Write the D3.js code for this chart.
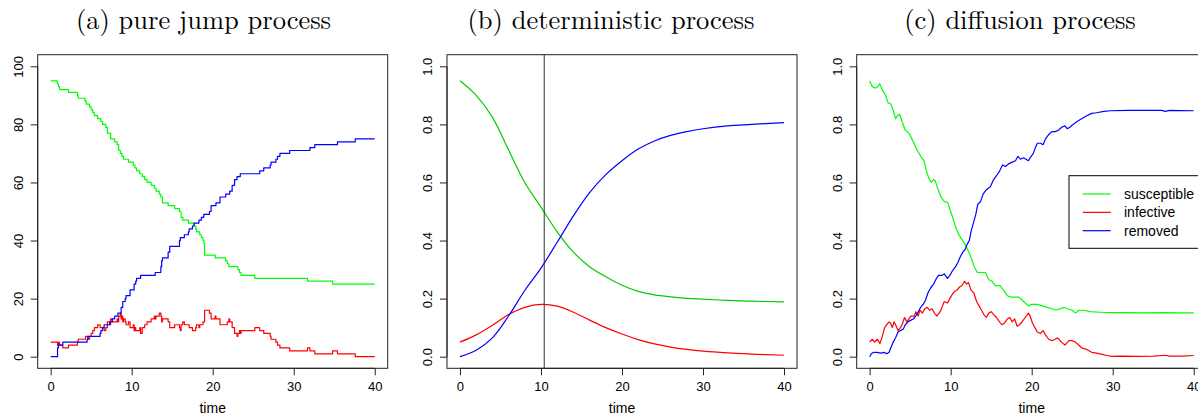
<!DOCTYPE html>
<html><head><meta charset="utf-8">
<script src="https://cdn.jsdelivr.net/npm/d3@7"></script>
<style>body{margin:0;background:#fff}svg{display:block}</style>
</head><body>
<svg id="c" width="1198" height="415"></svg>
<script>
// ---------- data ----------
const titles = ["(a) pure jump process", "(b) deterministic process", "(c) diffusion process"];
const xTicks = [0, 10, 20, 30, 40];
const yTicksCount = [0, 20, 40, 60, 80, 100];
const yTicksProp = [0, 0.2, 0.4, 0.6, 0.8, 1.0];
const seriesNames = ["susceptible", "infective", "removed"];
const xLabel = "time";

// (a) pure jump process: [time, count] step events
const jumpS = [[0,95],[0.82,94],[0.95,93],[1.1,92],[2.2,91],[3.3,90],[3.4,89],[4.25,88],[4.4,87],[4.8,86],[5.0,85],[5.2,84],[5.4,83],[5.8,82],[6.2,81],[6.4,80],[6.8,79],[7.0,77],[7.4,75],[7.9,74],[8.2,73],[8.4,71],[8.6,70],[8.8,69],[9.0,68],[9.6,67],[10.2,66],[10.4,65],[10.6,64],[11.0,63],[11.3,62],[11.6,61],[11.9,60],[12.4,59],[12.8,58],[13.0,57],[13.4,56],[13.6,55],[13.8,53],[14.5,52],[15.3,51],[15.9,50],[16.1,48],[16.3,47],[17.0,46],[17.7,45],[17.9,44],[18.0,43],[18.4,42],[18.6,41],[18.8,40],[18.9,39],[19.0,35],[20.3,34],[21.6,33],[21.8,32],[22.0,31],[23.1,30],[23.3,29],[23.5,28],[25.2,27],[31.7,26],[34.8,25],[40,25]];
const jumpI = [[0,5],[0.85,4],[0.95,5],[1.1,4],[1.5,3],[2.2,4],[3.3,5],[3.4,6],[4.3,7],[4.6,6],[4.8,7],[5.0,8],[5.2,9],[5.4,10],[5.8,11],[6.1,10],[6.6,9],[6.8,10],[7.0,12],[7.3,11],[7.4,13],[7.6,12],[8.2,13],[8.3,12],[8.4,14],[8.6,15],[8.7,13],[8.8,14],[8.9,12],[9.0,13],[9.2,12],[9.3,11],[9.6,12],[9.8,10],[10.2,11],[10.3,9],[10.4,10],[10.5,9],[11.0,10],[11.1,8],[11.3,10],[11.6,11],[11.9,12],[12.4,13],[12.8,14],[12.9,13],[13.0,14],[13.4,15],[13.6,14],[13.7,12],[13.8,13],[14.5,12],[14.7,10],[15.3,11],[15.9,10],[16.0,9],[16.1,11],[16.3,12],[16.5,11],[17.1,10],[17.5,9],[17.9,10],[18.0,11],[18.3,10],[18.4,11],[18.8,12],[19.0,16],[19.6,15],[19.8,13],[20.3,14],[20.4,13],[20.9,11],[21.8,12],[22.0,13],[22.1,12],[22.4,10],[22.7,8],[23.0,7],[23.1,8],[23.3,9],[23.4,8],[23.5,9],[25.2,10],[25.8,9],[26.3,8],[27.1,7],[27.2,6],[27.8,5],[28.0,4],[28.3,3],[29.5,2],[31.7,3],[32.0,2],[32.6,1],[34.8,2],[35.4,1],[37.6,0],[40,0]];
const jumpR = [[0,0],[0.85,3],[0.95,4],[1.5,5],[4.5,6],[4.6,7],[6.1,8],[6.2,9],[6.4,10],[6.6,11],[7.3,12],[7.6,13],[7.9,14],[8.3,15],[8.7,17],[8.9,19],[9.2,20],[9.3,21],[9.8,23],[10.3,25],[10.5,26],[10.6,27],[11.1,28],[12.9,29],[13.6,31],[13.7,33],[13.8,34],[14.5,36],[14.7,38],[15.9,40],[16.0,41],[16.5,42],[17.0,43],[17.1,44],[17.5,45],[17.7,46],[18.3,47],[18.6,48],[18.9,49],[19.6,50],[19.8,52],[20.4,53],[20.9,55],[21.6,56],[22.1,57],[22.4,59],[22.7,61],[23.0,62],[23.4,63],[25.8,64],[26.3,65],[27.1,66],[27.2,67],[27.8,68],[28.0,69],[28.3,70],[29.5,71],[32.0,72],[32.6,73],[35.4,74],[37.6,75],[40,75]];

// (b) deterministic process: [time, proportion]
const detS = [[0,0.95],[2,0.90],[4,0.825],[6,0.712],[8,0.60],[10,0.515],[12,0.43],[14,0.36],[16,0.31],[18,0.275],[20,0.246],[22,0.225],[24,0.213],[26,0.206],[28,0.201],[30,0.198],[33,0.194],[36,0.191],[40,0.189]];
const detI = [[0,0.05],[2,0.075],[4,0.108],[6,0.145],[8,0.17],[10,0.18],[12,0.174],[14,0.153],[16,0.126],[18,0.10],[20,0.078],[22,0.059],[24,0.044],[26,0.033],[28,0.025],[30,0.019],[33,0.013],[36,0.009],[40,0.005]];
const detR = [[0,0],[2,0.022],[4,0.065],[6,0.14],[8,0.228],[10,0.305],[12,0.394],[14,0.485],[16,0.565],[18,0.627],[20,0.675],[22,0.715],[24,0.743],[26,0.762],[28,0.775],[30,0.785],[33,0.795],[36,0.80],[40,0.806]];
const detPeakTime = [10.4];

// (c) diffusion process: [time, proportion]
const diffS = [[0,0.95],[0.33,0.93],[0.74,0.925],[1.0,0.93],[1.23,0.94],[1.56,0.92],[1.97,0.90],[2.26,0.875],[2.6,0.87],[2.9,0.85],[3.2,0.82],[3.45,0.83],[3.7,0.835],[4.0,0.81],[4.4,0.78],[4.85,0.77],[5.3,0.745],[5.7,0.72],[6.3,0.69],[6.7,0.675],[7.0,0.64],[7.3,0.615],[7.6,0.60],[7.9,0.61],[8.1,0.605],[8.4,0.58],[8.8,0.55],[9.2,0.535],[9.65,0.53],[10.0,0.50],[10.3,0.475],[10.7,0.44],[11.1,0.415],[11.5,0.40],[11.8,0.385],[12.0,0.375],[12.4,0.35],[12.9,0.31],[13.3,0.29],[13.9,0.29],[14.3,0.29],[14.7,0.265],[15.1,0.26],[15.5,0.245],[16.1,0.245],[16.5,0.23],[17.0,0.21],[17.4,0.205],[18.0,0.205],[18.4,0.205],[18.8,0.195],[19.2,0.185],[19.6,0.175],[20.0,0.18],[20.7,0.18],[21.3,0.175],[21.9,0.17],[22.5,0.165],[23.0,0.16],[23.5,0.165],[24.0,0.17],[24.4,0.165],[25.0,0.16],[25.4,0.15],[25.8,0.16],[26.4,0.16],[27.2,0.155],[28.5,0.153],[30,0.152],[32,0.152],[34,0.151],[36,0.152],[38,0.151],[40,0.151]];
const diffI = [[0,0.05],[0.33,0.06],[0.6,0.05],[0.94,0.06],[1.27,0.045],[1.56,0.07],[1.85,0.10],[2.1,0.11],[2.4,0.12],[2.6,0.115],[2.8,0.10],[3.0,0.12],[3.2,0.11],[3.5,0.09],[3.8,0.10],[4.0,0.11],[4.3,0.135],[4.6,0.12],[4.85,0.13],[5.1,0.14],[5.5,0.14],[5.7,0.155],[6.0,0.14],[6.2,0.16],[6.5,0.15],[6.8,0.165],[7.1,0.17],[7.4,0.16],[7.7,0.165],[8.0,0.15],[8.3,0.14],[8.7,0.155],[9.0,0.175],[9.2,0.19],[9.6,0.185],[9.9,0.20],[10.2,0.215],[10.5,0.225],[10.8,0.23],[11.1,0.24],[11.4,0.245],[11.7,0.26],[11.95,0.25],[12.2,0.255],[12.5,0.23],[12.85,0.22],[13.2,0.19],[13.5,0.175],[13.8,0.16],[14.1,0.145],[14.4,0.135],[14.7,0.15],[15.0,0.155],[15.3,0.145],[15.65,0.135],[15.9,0.125],[16.3,0.11],[16.6,0.115],[17.0,0.13],[17.3,0.135],[17.6,0.12],[17.9,0.13],[18.2,0.105],[18.5,0.11],[18.8,0.12],[19.2,0.135],[19.6,0.15],[19.8,0.14],[20.1,0.115],[20.5,0.095],[20.7,0.085],[21.1,0.08],[21.4,0.09],[21.7,0.075],[22.1,0.06],[22.5,0.055],[22.9,0.06],[23.2,0.065],[23.5,0.055],[23.9,0.045],[24.1,0.04],[24.6,0.055],[25.0,0.055],[25.4,0.05],[25.8,0.04],[26.2,0.03],[26.8,0.025],[27.4,0.015],[28.0,0.012],[28.7,0.008],[29.3,0.004],[29.9,0.001],[31,0.002],[33,0.001],[35,0.002],[36.5,0.005],[37,0.002],[38.5,0.002],[40,0.004]];
const diffR = [[0,0],[0.2,0.01],[0.5,0.015],[0.9,0.015],[1.35,0.012],[1.8,0.015],[2.1,0.01],[2.4,0.015],[2.6,0.03],[2.9,0.05],[3.2,0.065],[3.5,0.085],[3.8,0.09],[4.15,0.095],[4.4,0.11],[4.7,0.12],[5.05,0.125],[5.4,0.13],[5.7,0.14],[6.0,0.155],[6.3,0.17],[6.6,0.18],[6.9,0.195],[7.2,0.22],[7.6,0.24],[7.9,0.25],[8.25,0.27],[8.5,0.28],[8.95,0.28],[9.2,0.285],[9.6,0.27],[9.9,0.28],[10.2,0.295],[10.6,0.31],[10.9,0.325],[11.2,0.345],[11.5,0.36],[11.8,0.37],[12.0,0.385],[12.3,0.40],[12.5,0.43],[12.8,0.46],[13.1,0.49],[13.35,0.525],[13.7,0.535],[14.0,0.56],[14.4,0.575],[14.9,0.585],[15.3,0.61],[15.7,0.625],[16.05,0.64],[16.4,0.66],[16.75,0.655],[17.2,0.665],[17.6,0.67],[18.0,0.675],[18.3,0.69],[18.6,0.68],[19.0,0.685],[19.3,0.68],[19.6,0.675],[19.8,0.685],[20.2,0.70],[20.45,0.72],[20.7,0.735],[21.1,0.735],[21.4,0.73],[21.7,0.75],[22.1,0.765],[22.5,0.775],[22.9,0.775],[23.3,0.78],[23.7,0.79],[24.1,0.795],[24.4,0.785],[24.7,0.79],[25.1,0.80],[25.6,0.81],[26.2,0.82],[26.8,0.83],[27.4,0.838],[28.0,0.84],[28.9,0.845],[29.7,0.847],[32,0.848],[34,0.848],[36,0.848],[36.5,0.845],[37,0.848],[40,0.847]];

// ---------- drawing ----------
const svg = d3.select("#c");
const panelLeft = [37.7, 447, 856.7];
const titleX = [203.5, 611, 1020];
const PW = 350, TOP = 54.7, BOT = 368.3;
const sans = "'Liberation Sans', Arial, Helvetica, sans-serif";

function panel(i, yDomain, yTicks, yFmt, series, curve, extra) {
  const L = panelLeft[i];
  const g = svg.append("g").attr("transform", `translate(${L},0)`);
  const x = d3.scaleLinear().domain([-1.6, 41.6]).range([0, PW]);
  const y = d3.scaleLinear().domain(yDomain).range([BOT, TOP]);

  // title
  svg.append("text").attr("x", titleX[i]).attr("y", 29)
    .attr("text-anchor", "middle")
    .attr("font-family", "'Latin Modern Roman','CMU Serif','Liberation Serif','DejaVu Serif',serif")
    .attr("font-size", 26.5).attr("fill", "#000").text(titles[i]);

  // lines
  const line = d3.line().x(d => x(d[0])).y(d => y(d[1])).curve(curve);
  series.forEach(s => {
    g.append("path").attr("d", line(s.data)).attr("fill", "none")
      .attr("stroke", s.color).attr("stroke-width", 1.2).attr("stroke-linejoin", "round");
  });
  if (extra) extra(g, x, y);

  // box
  g.append("rect").attr("x", 0).attr("y", TOP).attr("width", PW).attr("height", BOT - TOP)
    .attr("fill", "none").attr("stroke", "#222").attr("stroke-width", 1);

  // x axis (R style)
  const xa = g.append("g").attr("transform", `translate(0,${BOT})`)
    .call(d3.axisBottom(x).tickValues(xTicks).tickSize(7).tickSizeOuter(0).tickPadding(6).tickFormat(d3.format("d")));
  xa.select(".domain").remove();
  xa.append("line").attr("x1", x(xTicks[0])).attr("x2", x(xTicks[xTicks.length - 1])).attr("stroke", "#222");
  xa.selectAll("line").attr("stroke", "#222");
  xa.selectAll("text").attr("font-family", sans).attr("font-size", 13).attr("fill", "#000");

  // y axis (R style, rotated labels)
  const ya = g.append("g")
    .call(d3.axisLeft(y).tickValues(yTicks).tickSize(7).tickSizeOuter(0).tickFormat(yFmt));
  ya.select(".domain").remove();
  ya.append("line").attr("y1", y(yTicks[0])).attr("y2", y(yTicks[yTicks.length - 1])).attr("stroke", "#222");
  ya.selectAll("line").attr("stroke", "#222");
  ya.selectAll(".tick text")
    .attr("x", null).attr("dy", null)
    .attr("transform", "translate(-15,0) rotate(-90)")
    .attr("text-anchor", "middle")
    .attr("font-family", sans).attr("font-size", 13).attr("fill", "#000");

  // x label
  g.append("text").attr("x", x(20)).attr("y", 413).attr("text-anchor", "middle")
    .attr("font-family", sans).attr("font-size", 14).attr("fill", "#000").text(xLabel);
  return { g, x, y };
}

const GREEN = "#00ff00", RED = "#ff0000", BLUE = "#0000ff";

panel(0, [-4, 104], yTicksCount, d3.format("d"),
  [{ data: jumpS, color: GREEN }, { data: jumpI, color: RED }, { data: jumpR, color: BLUE }],
  d3.curveStepAfter);

panel(1, [-0.04, 1.04], yTicksProp, d3.format(".1f"),
  [{ data: detS, color: "#00cd00" }, { data: detI, color: RED }, { data: detR, color: BLUE }],
  d3.curveCatmullRom.alpha(0.5),
  (g, x, y) => {
    g.append("line").attr("x1", x(detPeakTime[0])).attr("x2", x(detPeakTime[0]))
      .attr("y1", TOP).attr("y2", BOT).attr("stroke", "#333").attr("stroke-width", 1);
  });

panel(2, [-0.04, 1.04], yTicksProp, d3.format(".1f"),
  [{ data: diffS, color: GREEN }, { data: diffI, color: RED }, { data: diffR, color: BLUE }],
  d3.curveLinear);

// legend in panel (c)
const lg = svg.append("g");
lg.append("rect").attr("x", 1069).attr("y", 175.7).attr("width", 160).attr("height", 72.6)
  .attr("fill", "#fff").attr("stroke", "#000").attr("stroke-width", 1);
const legColors = [GREEN, RED, BLUE];
const legY = d3.scalePoint().domain(seriesNames).range([194, 230.7]);
seriesNames.forEach((n, k) => {
  lg.append("line").attr("x1", 1082.7).attr("x2", 1110.7).attr("y1", legY(n)).attr("y2", legY(n))
    .attr("stroke", legColors[k]).attr("stroke-width", 1.2);
  lg.append("text").attr("x", 1124).attr("y", legY(n)).attr("dy", "0.35em")
    .attr("font-family", sans).attr("font-size", 14).attr("fill", "#000").text(n);
});
</script>
</body></html>
